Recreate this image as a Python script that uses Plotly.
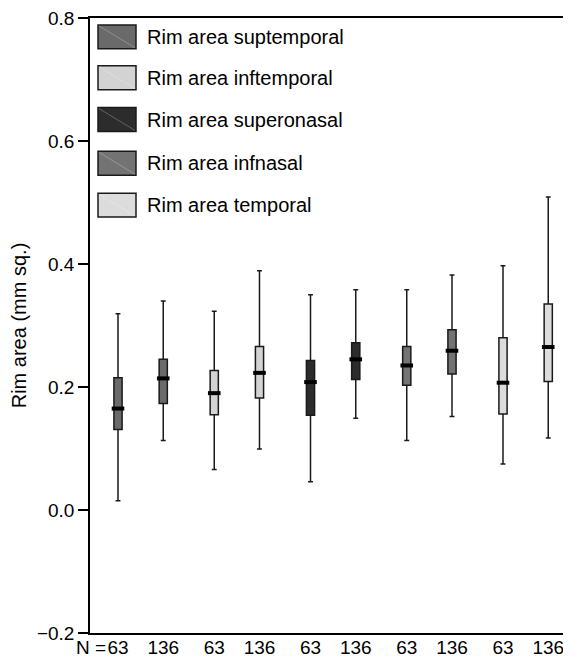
import plotly.graph_objects as go

# ---- data ----
variables = ["Rim area suptemporal", "Rim area inftemporal", "Rim area superonasal",
             "Rim area infnasal", "Rim area temporal"]
group_n = [63, 136]
# one value per box, ordered variable by variable, group 63 then 136
lower  = [0.015, 0.113, 0.066, 0.099, 0.046, 0.149, 0.113, 0.152, 0.075, 0.117]
q1     = [0.131, 0.173, 0.155, 0.182, 0.154, 0.212, 0.203, 0.221, 0.156, 0.209]
median = [0.165, 0.214, 0.190, 0.223, 0.208, 0.245, 0.235, 0.259, 0.207, 0.265]
q3     = [0.215, 0.245, 0.227, 0.266, 0.243, 0.272, 0.266, 0.293, 0.280, 0.335]
upper  = [0.319, 0.340, 0.323, 0.389, 0.350, 0.358, 0.358, 0.382, 0.397, 0.509]

# ---- styles ----
colors = ["#6a6a6a", "#d3d3d3", "#2c2c2c", "#737373", "#dcdcdc"]
FONT = "Liberation Sans, Arial, sans-serif"
OFF = 8  # page body margin of the HTML page
W, H = 571 - OFF, 659 - OFF
ML, MR, MT, MB = 90 - OFF, 0, 15 - OFF, 26
PW, PH = W - ML - MR, H - MT - MB

pair_gap = 0.47
positions, box_colors, tick_text = [], [], []
for i in range(len(variables)):
    for j, n in enumerate(group_n):
        positions.append(i + pair_gap * j)
        box_colors.append(colors[i])
        tick_text.append(str(n))

fig = go.Figure()
for k in range(len(positions)):
    fig.add_trace(go.Box(
        x=[positions[k]], q1=[q1[k]], median=[median[k]], q3=[q3[k]],
        lowerfence=[lower[k]], upperfence=[upper[k]],
        width=0.085, whiskerwidth=0.6, boxpoints=False,
        fillcolor=box_colors[k], line=dict(color="#1a1a1a", width=1.5),
        showlegend=False, hoverinfo="skip"))

fig.add_trace(go.Scatter(
    x=positions, y=median, mode="markers", showlegend=False, hoverinfo="skip",
    marker=dict(symbol="line-ew", size=9, line=dict(width=4, color="black"))))

# page pixel -> paper coords
def px_x(p):
    return (p - OFF - ML) / PW

def px_y(p):
    return (H - MB - (p - OFF)) / PH

# custom legend (big swatches like the original)
shapes, annotations = [], []
leg_centers = [34, 75, 117, 161, 203]
for name, col, cy in zip(variables, colors, leg_centers):
    shapes.append(dict(type="rect", xref="paper", yref="paper",
                       x0=px_x(98), x1=px_x(136), y0=px_y(cy + 12), y1=px_y(cy - 12),
                       fillcolor=col, line=dict(color="#1a1a1a", width=1.5)))
    shapes.append(dict(type="line", xref="paper", yref="paper",
                       x0=px_x(99), x1=px_x(135), y0=px_y(cy - 11), y1=px_y(cy + 11),
                       line=dict(color="rgba(255,255,255,0.25)", width=1)))
    annotations.append(dict(text=name, xref="paper", yref="paper",
                            x=px_x(145), y=px_y(cy), xanchor="left", yanchor="middle",
                            showarrow=False, font=dict(family=FONT, size=20, color="black")))

annotations.append(dict(text="N =", xref="paper", yref="paper",
                        x=px_x(108), y=px_y(648), xanchor="right", yanchor="middle",
                        showarrow=False, font=dict(family=FONT, size=19, color="black")))

fig.update_layout(
    width=W, height=H,
    margin=dict(l=ML, r=MR, t=MT, b=MB),
    paper_bgcolor="white", plot_bgcolor="white",
    font=dict(family=FONT, size=19, color="black"),
    shapes=shapes, annotations=annotations,
    xaxis=dict(range=[(90 - 118) / 96.25, (571 - 118) / 96.25],
               tickvals=positions, ticktext=tick_text, ticks="",
               ticklabelstandoff=-4, ticklabeloverflow="allow",
               showline=True, linecolor="black", linewidth=1.5, mirror=True,
               showgrid=False, zeroline=False,
               tickfont=dict(family=FONT, size=19, color="black")),
    yaxis=dict(range=[-0.2, 0.8], tickvals=[-0.2, 0.0, 0.2, 0.4, 0.6, 0.8],
               tickformat=".1f", ticks="outside", ticklen=10, tickwidth=1.5,
               ticklabeloverflow="allow",
               tickcolor="black", showline=True, linecolor="black", linewidth=1.5,
               showgrid=False, zeroline=False,
               tickfont=dict(family=FONT, size=19, color="black"),
               title=dict(text="Rim area (mm sq.)", standoff=6,
                          font=dict(family=FONT, size=20, color="black"))),
)

fig.write_html("out.html")
